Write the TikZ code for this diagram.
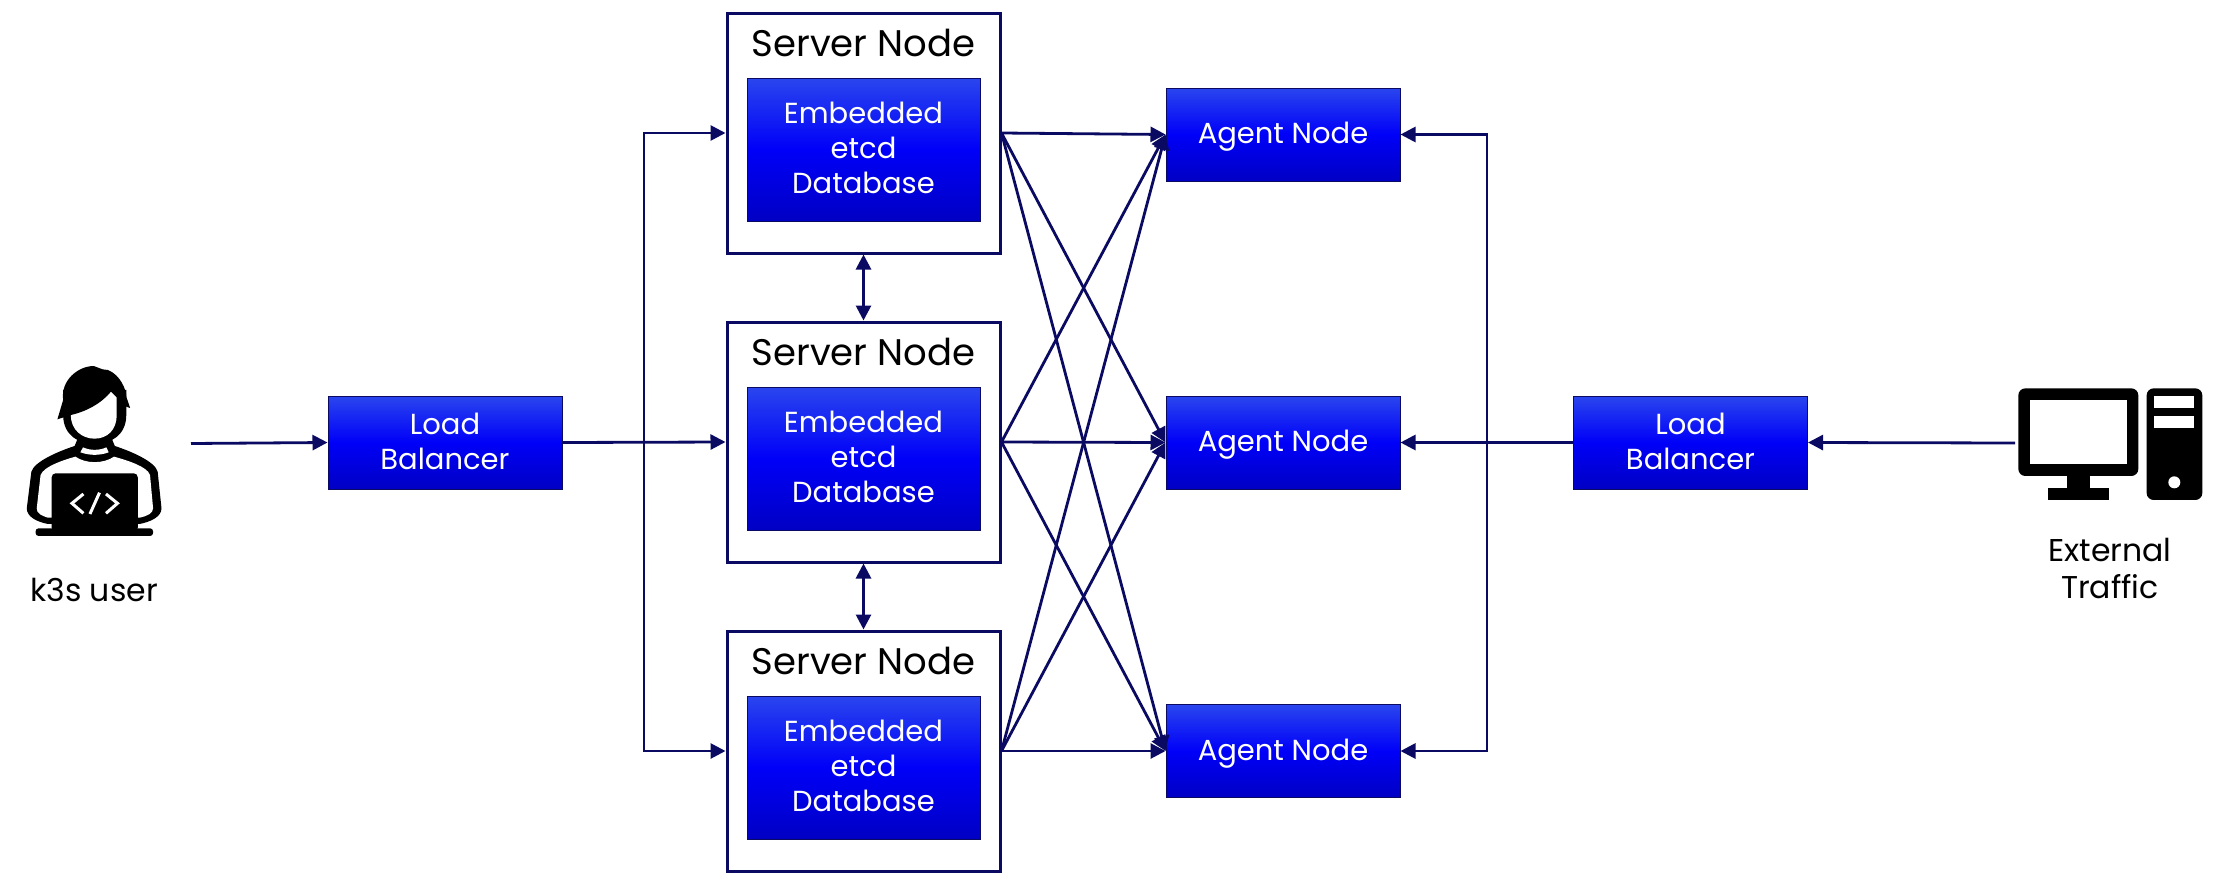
\documentclass[tikz,border=0pt]{standalone}
\usepackage{fontspec}
\setmainfont{Poppins}
\usetikzlibrary{arrows.meta}

\definecolor{linknavy}{HTML}{0A0A62}
\definecolor{boxtop}{HTML}{2A46EE}
\definecolor{boxmid}{HTML}{0000F8}
\definecolor{boxbot}{HTML}{0000C4}

\begin{document}
\begin{tikzpicture}[x=1pt, y=-1pt, ->, >={Stealth[length=15pt,width=15pt,inset=0pt]}, line width=2.8pt, draw=linknavy]
		\tikzstyle{bluebox}=[rectangle, draw=linknavy, line width=1pt, top color=boxtop, bottom color=boxbot, middle color=boxmid, text=white, align=center, font=\fontsize{29}{35}\selectfont, inner sep=0pt, text depth=3pt]
		\tikzstyle{balancer}=[bluebox, minimum width=234pt, minimum height=93pt]
		\tikzstyle{agent}=[bluebox, minimum width=234pt, minimum height=93pt]
		\tikzstyle{etcd}=[bluebox, minimum width=233pt, minimum height=143pt]
		\tikzstyle{server}=[rectangle, draw=linknavy, line width=3pt, minimum width=273pt, minimum height=240pt, inner sep=0pt]
		\tikzstyle{title}=[text=black, font=\fontsize{37}{42}\selectfont, inner sep=0pt]
		\tikzstyle{caption}=[text=black, align=center, font=\fontsize{31.5}{37}\selectfont, inner sep=0pt]

		\useasboundingbox (0,0) rectangle (2233,886);

		% Server nodes
		\node[server] (srv1) at (863.5,133) {};
		\node[title] (srv1title) at (863.5,43) {Server Node};
		\node[etcd] (db1) at (863.5,149.5) {Embedded\\etcd\\Database};

		\node[server] (srv2) at (863.5,442) {};
		\node[title] (srv2title) at (863.5,352) {Server Node};
		\node[etcd] (db2) at (863.5,458.5) {Embedded\\etcd\\Database};

		\node[server] (srv3) at (863.5,751) {};
		\node[title] (srv3title) at (863.5,661) {Server Node};
		\node[etcd] (db3) at (863.5,767.5) {Embedded\\etcd\\Database};

		% Agent nodes
		\node[agent] (agent1) at (1283,134.5) {Agent Node};
		\node[agent] (agent2) at (1283,442.5) {Agent Node};
		\node[agent] (agent3) at (1283,751) {Agent Node};

		% Load balancers
		\node[balancer] (lbleft) at (445,442.5) {Load\\Balancer};
		\node[balancer] (lbright) at (1690.5,442.5) {Load\\Balancer};

		% Captions
		\node[caption] (usertext) at (94,590) {k3s user};
		\node[caption] (exttext) at (2110,568.5) {External\\Traffic};

		% Free ends and bus lines
		\coordinate (userout) at (191,443.5);
		\coordinate (pcout) at (2015,443);
		\coordinate (busleft) at (644,442.5);
		\coordinate (busright) at (1487,442.5);

		% User side
		\draw (userout) -- (lbleft.west);
		\draw (lbleft.east) -- (srv2.west);
		\draw (busleft) |- (srv1.west);
		\draw (busleft) |- (srv3.west);

		% Server to server
		\draw[<->] (srv1.south) -- (srv2.north);
		\draw[<->] (srv2.south) -- (srv3.north);

		% Server to agent
		\draw (srv1.east) -- (agent1.west);
		\draw (srv1.east) -- (agent2.west);
		\draw (srv1.east) -- (agent3.west);
		\draw (srv2.east) -- (agent1.west);
		\draw (srv2.east) -- (agent2.west);
		\draw (srv2.east) -- (agent3.west);
		\draw (srv3.east) -- (agent1.west);
		\draw (srv3.east) -- (agent2.west);
		\draw (srv3.east) -- (agent3.west);

		% External side
		\draw (pcout) -- (lbright.east);
		\draw (lbright.west) -- (agent2.east);
		\draw (busright) |- (agent1.east);
		\draw (busright) |- (agent3.east);

		% User icon
		\begin{scope}[-, shift={(0,340)}, x=0.3827pt, y=-0.3333pt, line width=0pt, draw=none]
			\fill[black] (125,552) .. controls (95,545) and (70,530) .. (70,505) -- (82,395) .. controls (90,365) and (150,335) .. (195,318) -- (205,290) -- (290,290) -- (300,318) .. controls (345,335) and (405,365) .. (412,395) -- (422,505) .. controls (422,530) and (395,545) .. (365,552) -- cycle;
			\fill[white] (125,533) .. controls (110,528) and (95,520) .. (96,505) -- (106,405) .. controls (115,380) and (160,362) .. (197,350) .. controls (225,372) and (270,372) .. (298,350) .. controls (335,362) and (385,380) .. (392,405) -- (400,505) .. controls (400,520) and (385,528) .. (365,533) -- cycle;
			\fill[white] (217,322) .. controls (235,332) and (260,332) .. (278,322) -- (284,337) .. controls (260,347) and (235,347) .. (210,337) -- cycle;
			\fill[black] (165,225) .. controls (165,285) and (205,312) .. (247,312) .. controls (290,312) and (330,285) .. (330,225) -- (330,150) -- (165,150) -- cycle;
			\fill[white] (185,225) .. controls (185,270) and (215,296) .. (247,296) .. controls (280,296) and (305,270) .. (305,225) -- (305,150) -- (185,150) -- cycle;
			\fill[black] (150,238) -- (165,180) .. controls (158,120) and (205,78) .. (245,78) -- (268,88) -- (282,90) .. controls (315,105) and (330,150) .. (330,170) -- (340,204) -- (325,198) -- (308,175) -- (290,155) .. controls (265,190) and (225,215) .. (185,225) -- cycle;
			\fill[black, rounded corners=4pt] (135,400) rectangle (360,575);
			\fill[black, rounded corners=3pt] (93,565) rectangle (400,588);
			\draw[white, line width=3pt] (218,462) -- (188,490) -- (218,520);
			\draw[white, line width=3pt] (260,458) -- (235,522);
			\draw[white, line width=3pt] (277,462) -- (307,490) -- (277,520);
		\end{scope}

		% Computer icon
		\begin{scope}[-, shift={(1950,360)}, x=0.3333pt, y=-0.3333pt, line width=0pt, draw=none]
			\fill[black, rounded corners=7pt] (205,85) rectangle (565,348);
			\fill[white] (240,120) rectangle (530,312);
			\fill[black] (350,348) rectangle (420,385);
			\fill[black] (293,385) rectangle (476,420);
			\fill[black, rounded corners=7pt] (590,85) rectangle (757,420);
			\fill[white] (613,107) rectangle (733,145);
			\fill[white] (613,167) rectangle (733,204);
			\fill[white] (673,367) circle (6pt);
		\end{scope}

	\end{tikzpicture}
\end{document}
